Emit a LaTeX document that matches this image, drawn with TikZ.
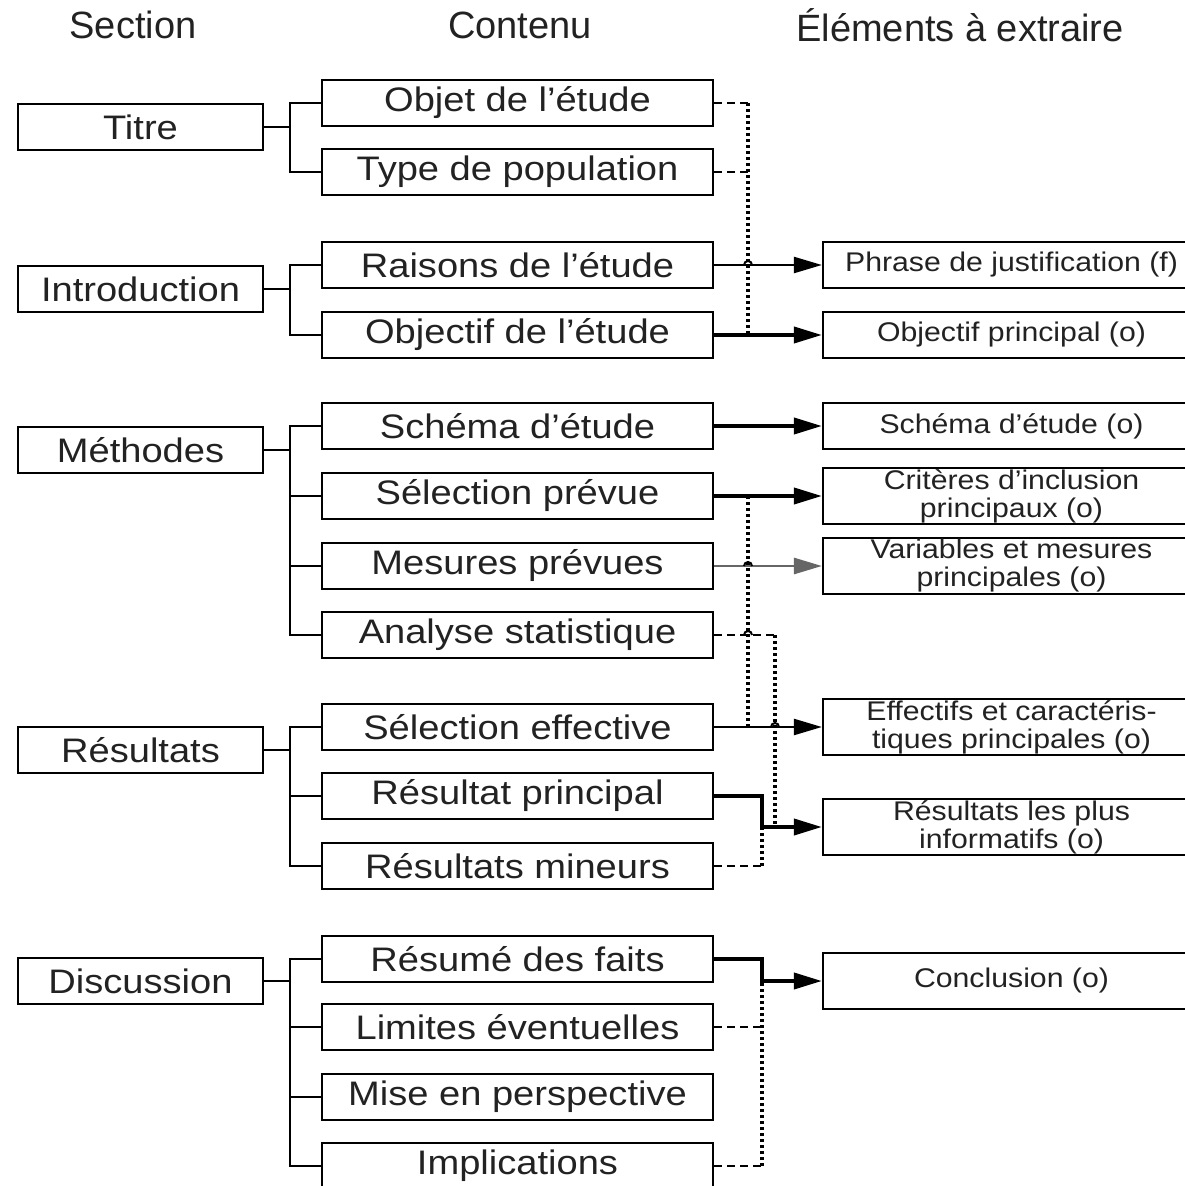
\documentclass[tikz,border=0pt]{standalone}
\usepackage{fontspec}
\setmainfont{Liberation Sans}
\newfontfamily\bfnt[FakeStretch=1.12]{Liberation Sans}
\usetikzlibrary{arrows.meta}
\definecolor{ink}{HTML}{222222}
\begin{document}
\begin{tikzpicture}[x=0.5pt,y=-0.5pt,
  sec/.style={draw, line width=1.1pt, minimum width=122.5pt, minimum height=23pt, inner sep=0pt, text=ink, font=\bfnt\fontsize{17}{20}\selectfont},
  cont/.style={sec, minimum width=195.5pt},
  elem/.style={draw, line width=1.1pt, minimum width=188.5pt, minimum height=23pt, inner sep=0pt, align=center, text=ink, font=\bfnt\fontsize{13.5}{14}\selectfont},
  elemtwo/.style={elem, minimum height=28pt},
  hdr/.style={text=ink, font=\fontsize{19}{22}\selectfont},
  tree/.style={line width=1.1pt},
  arrthick/.style={-{Triangle[length=14pt,width=8pt]}, line width=1.9pt},
  arrthin/.style={-{Triangle[length=14pt,width=8pt]}, line width=1.2pt},
  arrgray/.style={-{Triangle[length=14pt,width=8pt]}, line width=1.4pt, draw=black!60, fill=black!85},
  dots/.style={line width=1.8pt, dash pattern=on 1.5pt off 1.5pt},
  dsh/.style={line width=1.2pt, dash pattern=on 4pt off 2.5pt},
  hop/.style={line width=1pt}
]
\useasboundingbox (0,0) rectangle (1184,1186);

% headers
\node[hdr] (h1) at (133,25) {Section};
\node[hdr] (h2) at (520,25) {Contenu};
\node[hdr] (h3) at (960,25) {Éléments à extraire};

% sections
\node[sec] (titre) at (140.5,127) {Titre};
\node[sec] (intro) at (140.5,289) {Introduction};
\node[sec] (meth)  at (140.5,450) {Méthodes};
\node[sec] (resu)  at (140.5,750) {Résultats};
\node[sec] (disc)  at (140.5,981) {Discussion};

% contents
\node[cont] (objet)  at (517.5,103) {Objet de l’étude};
\node[cont] (typpop) at (517.5,172) {Type de population};
\node[cont] (rais)   at (517.5,265) {Raisons de l’étude};
\node[cont] (objec)  at (517.5,335) {Objectif de l’étude};
\node[cont] (schema) at (517.5,426) {Schéma d’étude};
\node[cont] (selp)   at (517.5,496) {Sélection prévue};
\node[cont] (mesp)   at (517.5,566) {Mesures prévues};
\node[cont] (anal)   at (517.5,635) {Analyse statistique};
\node[cont] (sele)   at (517.5,727) {Sélection effective};
\node[cont] (princ)  at (517.5,796) {Résultat principal};
\node[cont] (mineur) at (517.5,866) {Résultats mineurs};
\node[cont] (resume) at (517.5,959) {Résumé des faits};
\node[cont] (limit)  at (517.5,1027) {Limites éventuelles};
\node[cont] (persp)  at (517.5,1097) {Mise en perspective};
\node[cont] (impl)   at (517.5,1166) {Implications};

% elements
\node[elem]    (phr)   at (1011.5,265) {Phrase de justification (f)};
\node[elem]    (objp)  at (1011.5,335) {Objectif principal (o)};
\node[elem]    (schp)  at (1011.5,426) {Schéma d’étude (o)};
\node[elemtwo] (crit)  at (1011.5,496) {Critères d’inclusion\\principaux (o)};
\node[elemtwo] (vari)  at (1011.5,566) {Variables et mesures\\principales (o)};
\node[elemtwo] (effe)  at (1011.5,727) {Effectifs et caractéris-\\tiques principales (o)};
\node[elemtwo] (infor) at (1011.5,827) {Résultats les plus\\informatifs (o)};
\node[elemtwo] (concl) at (1011.5,981) {Conclusion (o)};

% tree trunks
\coordinate (t) at (290,0);
\draw[tree] (titre.east) -- (titre.east -| t);
\draw[tree] (objet.west) -- (objet.west -| t) -- (typpop.west -| t) -- (typpop.west);
\draw[tree] (intro.east) -- (intro.east -| t);
\draw[tree] (rais.west) -- (rais.west -| t) -- (objec.west -| t) -- (objec.west);
\draw[tree] (meth.east) -- (meth.east -| t);
\draw[tree] (schema.west) -- (schema.west -| t) -- (anal.west -| t) -- (anal.west);
\draw[tree] (selp.west) -- (selp.west -| t);
\draw[tree] (mesp.west) -- (mesp.west -| t);
\draw[tree] (resu.east) -- (resu.east -| t);
\draw[tree] (sele.west) -- (sele.west -| t) -- (mineur.west -| t) -- (mineur.west);
\draw[tree] (princ.west) -- (princ.west -| t);
\draw[tree] (disc.east) -- (disc.east -| t);
\draw[tree] (resume.west) -- (resume.west -| t) -- (impl.west -| t) -- (impl.west);
\draw[tree] (limit.west) -- (limit.west -| t);
\draw[tree] (persp.west) -- (persp.west -| t);

% connector columns
\coordinate (v1) at (748,0);
\coordinate (v2) at (775,0);
\coordinate (v3) at (762,0);

% arrows
\draw[arrthin]  (rais.east) -- (phr.west);
\draw[arrthick] (objec.east) -- (objp.west);
\draw[arrthick] (schema.east) -- (schp.west);
\draw[arrthick] (selp.east) -- (crit.west);
\draw[arrgray]  (mesp.east) -- (vari.west);
\draw[arrthin]  (sele.east) -- (effe.west);
\draw[arrthick] (princ.east) -- (princ.east -| v3) |- (infor.west);
\draw[arrthick] (resume.east) -- (resume.east -| v3) |- (concl.west);

% dashed stubs
\draw[dsh] (objet.east) -- (objet.east -| v1);
\draw[dsh] (typpop.east) -- (typpop.east -| v1);
\draw[dsh] (anal.east) -- (anal.east -| v2);
\draw[dsh] (mineur.east) -- (mineur.east -| v3);
\draw[dsh] (limit.east) -- (limit.east -| v3);
\draw[dsh] (impl.east) -- (impl.east -| v3);

% dotted verticals
\draw[dots] (objet.east -| v1) -- (objec.east -| v1);
\draw[dots] (selp.east -| v1) -- (sele.east -| v1);
\draw[dots] (anal.east -| v2) -- (infor.west -| v2);
\draw[dots] (mineur.east -| v3) -- (infor.west -| v3);
\draw[dots] (impl.east -| v3) -- (resume.east -| v3);

% small hops at crossings
\draw[hop] (rais.east -| v1) ++(-4,0) arc[start angle=180, end angle=0, radius=2pt];
\draw[hop] (mesp.east -| v1) ++(-4,0) arc[start angle=180, end angle=0, radius=2pt];
\draw[hop] (anal.east -| v1) ++(-4,0) arc[start angle=180, end angle=0, radius=2pt];
\draw[hop] (sele.east -| v2) ++(-4,0) arc[start angle=180, end angle=0, radius=2pt];
\end{tikzpicture}
\end{document}
